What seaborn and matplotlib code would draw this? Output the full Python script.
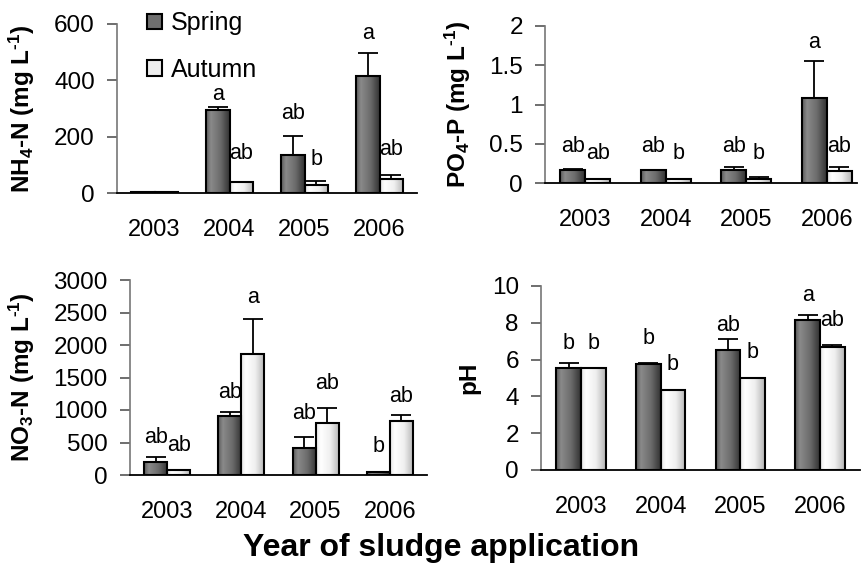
import numpy as np
import pandas as pd
import matplotlib
matplotlib.use("Agg")
import matplotlib.pyplot as plt
from matplotlib.colors import LinearSegmentedColormap
import seaborn as sns

# ---------------- data ----------------
years = ["2003", "2004", "2005", "2006"]
seasons = ["Spring", "Autumn"]

nh4_spring = [2, 295, 136, 416]
nh4_spring_err = [0, 11, 67, 80]
nh4_autumn = [2, 38, 30, 50]
nh4_autumn_err = [0, 2, 14, 14]
nh4_spring_let = ["", "a", "ab", "a"]
nh4_autumn_let = ["", "ab", "b", "ab"]
nh4_spring_let_y = [0, 348, 283, 567]
nh4_autumn_let_y = [0, 139, 120, 154]

po4_spring = [0.16, 0.16, 0.16, 1.08]
po4_spring_err = [0.02, 0.005, 0.04, 0.47]
po4_autumn = [0.05, 0.05, 0.05, 0.15]
po4_autumn_err = [0.005, 0.005, 0.03, 0.05]
po4_spring_let = ["ab", "ab", "ab", "a"]
po4_autumn_let = ["ab", "b", "b", "ab"]
po4_spring_let_y = [0.47, 0.47, 0.47, 1.79]
po4_autumn_let_y = [0.37, 0.37, 0.37, 0.47]

no3_spring = [195, 907, 420, 50]
no3_spring_err = [77, 67, 160, 0]
no3_autumn = [77, 1856, 795, 830]
no3_autumn_err = [0, 544, 230, 88]
no3_spring_let = ["ab", "ab", "ab", "b"]
no3_autumn_let = ["ab", "a", "ab", "ab"]
no3_spring_let_y = [570, 1266, 953, 436]
no3_autumn_let_y = [461, 2738, 1415, 1205]

ph_spring = [5.56, 5.76, 6.5, 8.13]
ph_spring_err = [0.27, 0.05, 0.64, 0.27]
ph_autumn = [5.52, 4.33, 4.98, 6.68]
ph_autumn_err = [0.02, 0.02, 0.02, 0.12]
ph_spring_let = ["b", "b", "ab", "a"]
ph_autumn_let = ["b", "b", "b", "ab"]
ph_spring_let_y = [6.9, 7.12, 7.88, 9.5]
ph_autumn_let_y = [6.9, 5.76, 6.38, 8.1]

# ---------------- style ----------------
sns.set_style("white")
plt.rcParams["font.family"] = ["Liberation Sans", "DejaVu Sans"]
plt.rcParams["mathtext.fontset"] = "custom"
plt.rcParams["mathtext.rm"] = "Liberation Sans:bold"
plt.rcParams["mathtext.bf"] = "Liberation Sans:bold"
plt.rcParams["mathtext.default"] = "rm"
for k in ["text.color", "axes.labelcolor", "xtick.color", "ytick.color"]:
    plt.rcParams[k] = "black"

spring_color = "#6e6e6e"
autumn_color = "#eeeeee"
cmap_spring = LinearSegmentedColormap.from_list(
    "sp", [(0, "#5a5a5a"), (0.2, "#8a8a8a"), (0.6, "#6c6c6c"), (1, "#333333")])
cmap_autumn = LinearSegmentedColormap.from_list(
    "au", [(0, "#e6e6e6"), (0.2, "#ffffff"), (0.6, "#efefef"), (1, "#b4b4b4")])

XTICK_FS = 17
YTICK_FS = 17.5
LET_FS = 15.5
YLAB_FS = 17.5
LEG_FS = 18

fig = plt.figure(figsize=(8.61, 5.72), dpi=100)

def px_axes(l, r, t, b):
    W, H = 861, 572
    return fig.add_axes([l / W, 1 - b / H, (r - l) / W, (b - t) / H])

def panel(ax, sp, sp_err, au, au_err, sp_let, au_let, sp_ly, au_ly,
          ylim, yticks, yticklabels, ylabel, xlim_right=3.5, legend=False):
    df = pd.DataFrame({
        "Year": years * 2,
        "Season": [seasons[0]] * 4 + [seasons[1]] * 4,
        "Value": list(sp) + list(au),
    })
    sns.barplot(data=df, x="Year", y="Value", hue="Season", order=years,
                hue_order=seasons, palette=[spring_color, autumn_color],
                width=0.62, edgecolor="black", linewidth=1.5, errorbar=None,
                saturation=1, legend=legend, ax=ax)
    grad = np.linspace(0, 1, 64)[np.newaxis, :]
    errs = [sp_err, au_err]
    lets = [sp_let, au_let]
    lys = [sp_ly, au_ly]
    cmaps = [cmap_spring, cmap_autumn]
    for i, cont in enumerate(ax.containers[:2]):
        xs, hs = [], []
        for p in cont.patches:
            x, w, h = p.get_x(), p.get_width(), p.get_height()
            im = ax.imshow(grad, extent=[x, x + w, 0, h], aspect="auto",
                           cmap=cmaps[i], zorder=p.get_zorder() - 0.01,
                           interpolation="bilinear")
            im.set_clip_path(p)
            p.set_facecolor("none")
            xs.append(x + w / 2)
            hs.append(h)
        ax.errorbar(xs, hs, yerr=[np.zeros(len(hs)), errs[i]], fmt="none",
                    ecolor="black", elinewidth=1.3, capsize=7, capthick=1.3,
                    zorder=1)
        for xc, t, ly in zip(xs, lets[i], lys[i]):
            if t:
                ax.text(xc, ly, t, ha="center", va="center", fontsize=LET_FS)
    ax.set_xlim(-0.5, xlim_right)
    ax.set_ylim(*ylim)
    ax.set_yticks(yticks)
    ax.set_yticklabels(yticklabels, fontsize=YTICK_FS)
    ax.tick_params(axis="x", length=0, pad=19, labelsize=XTICK_FS)
    ax.tick_params(axis="y", direction="out", length=7, width=1.2,
                   color="#555555", left=True, pad=9)
    ax.set_xlabel("")
    ax.set_ylabel(ylabel, fontsize=YLAB_FS, fontweight="bold")
    for s in ["top", "right"]:
        ax.spines[s].set_visible(False)
    ax.spines["left"].set_color("#777777")
    ax.spines["left"].set_linewidth(1.2)
    ax.spines["bottom"].set_color("black")
    ax.spines["bottom"].set_linewidth(1.3)

ax1 = px_axes(117, 417, 24, 193)
panel(ax1, nh4_spring, nh4_spring_err, nh4_autumn, nh4_autumn_err,
      nh4_spring_let, nh4_autumn_let, nh4_spring_let_y, nh4_autumn_let_y,
      (0, 600), [0, 200, 400, 600], ["0", "200", "400", "600"],
      r"NH$_4$-N (mg L$^{\text{-}1}$)", legend=True)
h, l = ax1.get_legend_handles_labels()
ax1.legend(h, l, loc="upper left", bbox_to_anchor=(0.1, 1.075), frameon=False,
           fontsize=LEG_FS, handlelength=0.6, handleheight=0.6,
           handletextpad=0.35, labelspacing=0.9, borderaxespad=0,
           borderpad=0)
ax1.yaxis.set_label_coords(-0.267, 0.5)

ax2 = px_axes(545, 857, 26, 183)
panel(ax2, po4_spring, po4_spring_err, po4_autumn, po4_autumn_err,
      po4_spring_let, po4_autumn_let, po4_spring_let_y, po4_autumn_let_y,
      (0, 2), [0, 0.5, 1, 1.5, 2], ["0", "0.5", "1", "1.5", "2"],
      r"PO$_4$-P (mg L$^{\text{-}1}$)", xlim_right=3.376)
ax2.yaxis.set_label_coords(-0.231, 0.5)

ax3 = px_axes(130, 427, 280, 475)
panel(ax3, no3_spring, no3_spring_err, no3_autumn, no3_autumn_err,
      no3_spring_let, no3_autumn_let, no3_spring_let_y, no3_autumn_let_y,
      (0, 3000), list(range(0, 3001, 500)), [str(v) for v in range(0, 3001, 500)],
      r"NO$_3$-N (mg L$^{\text{-}1}$)")
ax3.yaxis.set_label_coords(-0.313, 0.5)

ax4 = px_axes(541, 860, 286, 470)
panel(ax4, ph_spring, ph_spring_err, ph_autumn, ph_autumn_err,
      ph_spring_let, ph_autumn_let, ph_spring_let_y, ph_autumn_let_y,
      (0, 10), [0, 2, 4, 6, 8, 10], ["0", "2", "4", "6", "8", "10"], "pH")
ax4.yaxis.set_label_coords(-0.191, 0.5)

fig.text(0.512, 0.042, "Year of sludge application", ha="center", va="center",
         fontsize=23, fontweight="bold")

fig.savefig("out.png", dpi=100)
